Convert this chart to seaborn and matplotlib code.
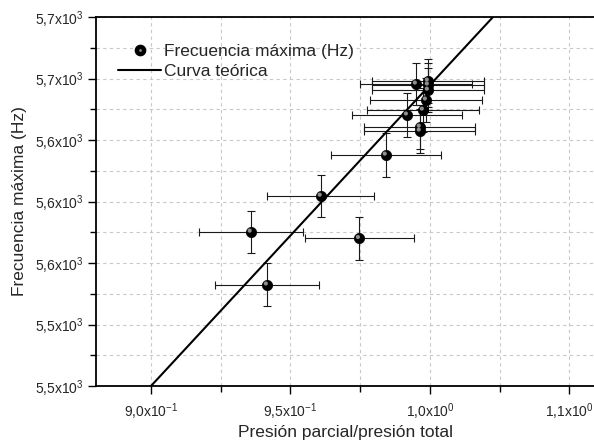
import numpy as np
import matplotlib
matplotlib.use("Agg")
import matplotlib.pyplot as plt
import seaborn as sns
from matplotlib.lines import Line2D
from matplotlib.legend_handler import HandlerTuple
from matplotlib.ticker import FixedLocator
from matplotlib.transforms import offset_copy

# ---- data ----
pressure_ratio = [0.9358, 0.9416, 0.9609, 0.9746, 0.9842, 0.9918, 0.9950,
                  0.9964, 0.9964, 0.9975, 0.9986, 0.9993, 0.9993, 0.9993]
freq_max = [5587.6, 5566.1, 5602.2, 5585.0, 5618.9, 5635.2, 5647.8,
            5630.3, 5628.7, 5637.2, 5641.3, 5645.3, 5647.4, 5649.0]
pressure_err = [0.0187, 0.0188, 0.0192, 0.0195, 0.0197, 0.0198, 0.0199,
                0.0199, 0.0199, 0.0200, 0.0200, 0.0200, 0.0200, 0.0200]
freq_err = [8.6, 8.7, 8.7, 8.6, 8.8, 8.8, 8.7, 8.8, 8.8, 8.8, 8.8, 8.8, 8.8, 8.8]

theory_x = [0.900, 1.0226]
theory_y = [5525.0, 5675.0]

x_ticks = [0.90, 0.95, 1.00, 1.05]
x_tick_labels = ["9,0x10$^{-1}$", "9,5x10$^{-1}$", "1,0x10$^{0}$", "1,1x10$^{0}$"]
y_ticks = [5525, 5550, 5575, 5600, 5625, 5650, 5675]
y_tick_labels = ["5,5x10$^{3}$", "5,5x10$^{3}$", "5,6x10$^{3}$", "5,6x10$^{3}$",
                 "5,6x10$^{3}$", "5,7x10$^{3}$", "5,7x10$^{3}$"]

legend_labels = ["Frecuencia máxima (Hz)", "Curva teórica"]
x_label = "Presión parcial/presión total"
y_label = "Frecuencia máxima (Hz)"

# ---- style ----
sns.set_style("white")
plt.rcParams["font.family"] = ["Liberation Sans", "DejaVu Sans"]
plt.rcParams["mathtext.fontset"] = "custom"
plt.rcParams["mathtext.rm"] = "Liberation Sans"
plt.rcParams["mathtext.it"] = "Liberation Sans"
plt.rcParams["mathtext.bf"] = "Liberation Sans"

fig = plt.figure(figsize=(5.94, 4.43), dpi=100)
ax = fig.add_axes([96 / 594, 57 / 443, 498 / 594, 369 / 443])

ax.errorbar(pressure_ratio, freq_max, xerr=pressure_err, yerr=freq_err,
            fmt="none", ecolor="#1a1a1a", elinewidth=0.8, capsize=3.2,
            capthick=0.8, zorder=2)
sns.lineplot(x=theory_x, y=theory_y, color="black", linewidth=1.5, ax=ax,
             zorder=3, legend=False)
sns.scatterplot(x=pressure_ratio, y=freq_max, color="black", s=55,
                edgecolor="black", linewidth=0.5, ax=ax, zorder=4, legend=False)
# light spot on each ball (shaded-sphere look)
hl_trans = offset_copy(ax.transData, fig=fig, x=-1.2, y=1.4, units="dots")
ax.scatter(pressure_ratio, freq_max, marker="o", s=9, color="#8e8e8e",
           edgecolors="none", zorder=5, transform=hl_trans)

ax.set_xlim(0.88029, 1.0588)
ax.set_ylim(5525, 5675)

ax.xaxis.set_major_locator(FixedLocator(x_ticks))
ax.set_xticklabels(x_tick_labels)
ax.xaxis.set_minor_locator(FixedLocator([0.925, 0.975, 1.025]))
ax.yaxis.set_major_locator(FixedLocator(y_ticks))
ax.set_yticklabels(y_tick_labels)
ax.yaxis.set_minor_locator(FixedLocator([5537.5, 5562.5, 5587.5, 5612.5, 5637.5, 5662.5]))

ax.tick_params(axis="both", which="major", direction="out", length=6, width=1.0,
               labelsize=10, pad=3, color="black")
ax.tick_params(axis="both", which="minor", direction="out", length=4, width=1.0,
               color="black")
ax.tick_params(axis="x", which="major", pad=5)
ax.tick_params(left=True, bottom=True, top=False, right=False, which="both")

ax.set_axisbelow(True)
ax.grid(which="both", linestyle=(0, (3, 3)), color="#c8c8c8", linewidth=0.8)

for side in ["left", "bottom", "top"]:
    ax.spines[side].set_visible(True)
    ax.spines[side].set_color("black")
    ax.spines[side].set_linewidth(1.3)
ax.spines["right"].set_visible(False)

ax.set_xlabel(x_label, fontsize=12.5, labelpad=2)
ax.set_ylabel(y_label, fontsize=12.5, labelpad=5.5)

h_pts = (Line2D([], [], marker="o", ls="", color="black", markersize=7.4),
         Line2D([], [], marker="o", ls="", color="#8e8e8e",
                markeredgecolor="none", markersize=2.0))
h_line = Line2D([], [], color="black", linewidth=1.5)
ax.legend(handles=[h_pts, h_line], labels=legend_labels,
          handler_map={tuple: HandlerTuple(ndivide=1)},
          loc="upper left", bbox_to_anchor=(0.044, 0.928), frameon=False,
          fontsize=12.5, handlelength=2.5, handletextpad=0.15, labelspacing=0.32,
          borderpad=0, borderaxespad=0)

fig.savefig("out.png", dpi=100)
